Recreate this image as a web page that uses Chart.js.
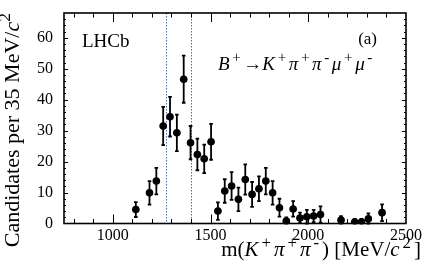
<!DOCTYPE html>
<html>
<head>
<meta charset="utf-8">
<script src="https://cdn.jsdelivr.net/npm/chart.js@4.4.1/dist/chart.umd.min.js"></script>
<style>
  html, body { margin: 0; padding: 0; background: #fff; }
  #wrap { width: 427px; height: 267px; }
</style>
</head>
<body>
<div id="wrap"><canvas id="massChart" width="427" height="267"></canvas></div>
<script>
// ── Data (35 MeV bins, centres in MeV/c^2) ─────────────────────────────────
const massBins   = [1117.5, 1187.5, 1222.5, 1257.5, 1292.5, 1327.5, 1362.5, 1397.5, 1432.5, 1467.5,
                    1502.5, 1537.5, 1572.5, 1607.5, 1642.5, 1677.5, 1712.5, 1747.5, 1782.5, 1817.5,
                    1852.5, 1887.5, 1922.5, 1957.5, 1992.5, 2027.5, 2062.5, 2167.5, 2237.5, 2272.5,
                    2307.5, 2377.5];
const candidates = [4.5, 9.9, 13.7, 31.5, 34.5, 29.3, 46.6, 26.1, 22.3, 20.9,
                    26.4, 4.0, 10.5, 12.1, 7.8, 14.2, 9.4, 11.2, 13.7, 9.9,
                    5.1, 0.8, 4.7, 1.8, 2.2, 2.4, 2.9, 1.1, 0.5, 0.5,
                    1.5, 3.5];
const candErr    = [2.4, 3.8, 4.3, 6.2, 6.4, 5.9, 7.6, 5.4, 5.1, 4.6,
                    5.8, 2.8, 3.8, 4.5, 3.8, 4.9, 4.0, 4.0, 4.3, 3.8,
                    2.9, 1.2, 2.5, 1.7, 2.2, 2.0, 2.6, 1.3, 1.0, 1.0,
                    1.8, 2.7];
const binHalf    = 17.5;
const xTicks     = [1000, 1500, 2000, 2500];
const yTicks     = [0, 10, 20, 30, 40, 50, 60];
const windowCuts = [1270, 1400];

const SERIF = '"Liberation Serif", "DejaVu Serif", serif';
const SUP = 0.8;

// text pieces: [text, italic, superscript]; gap = extra space around superscripts
function pieceFont(it, sup, size) {
  return `${it ? 'italic ' : ''}${sup ? size * SUP : size}px ${SERIF}`;
}
function richWidth(ctx, runs, size, gap) {
  let w = 0;
  for (const [txt, it, sup] of runs) {
    ctx.font = pieceFont(it, sup, size);
    w += ctx.measureText(txt).width + (sup ? 2 * gap : 0);
  }
  return w;
}
function drawRich(ctx, runs, x, y, size, align, gap = 0) {
  let cx = align === 'right' ? x - richWidth(ctx, runs, size, gap) : x;
  ctx.textAlign = 'left';
  ctx.textBaseline = 'alphabetic';
  ctx.fillStyle = '#000';
  for (const [txt, it, sup] of runs) {
    ctx.font = pieceFont(it, sup, size);
    if (sup) cx += gap;
    ctx.fillText(txt, cx, sup ? y - size * 0.4 : y);
    cx += ctx.measureText(txt).width + (sup ? gap : 0);
  }
}

const xTitle = [['m(', 0, 0], ['K', 1, 0], ['+', 0, 1], ['π', 1, 0], ['+', 0, 1], ['π', 1, 0], ['-', 0, 1],
                [') [MeV/', 0, 0], ['c', 1, 0], ['2', 0, 1], [']', 0, 0]];
const yTitle = [['Candidates per 35 MeV/', 0, 0], ['c', 1, 0], ['2', 0, 1]];
const decay  = [['B', 1, 0], ['+', 0, 1], ['→', 0, 0], ['K', 1, 0], ['+', 0, 1], ['π', 1, 0], ['+', 0, 1],
                ['π', 1, 0], ['-', 0, 1], ['μ', 1, 0], ['+', 0, 1], ['μ', 1, 0], ['-', 0, 1]];

// ── Error bars, selection window, frame with inward ticks, labels ──────────
const rootStyle = {
  id: 'rootStyle',
  beforeDatasetsDraw(chart) {
    const { ctx, chartArea: a, scales: { x, y } } = chart;
    ctx.save();
    // selection window lines
    ctx.strokeStyle = '#4b6cb7';
    ctx.lineWidth = 1;
    ctx.setLineDash([1.5, 1.5]);
    for (const m of windowCuts) {
      const px = Math.round(x.getPixelForValue(m)) + 0.5;
      ctx.beginPath(); ctx.moveTo(px, a.top); ctx.lineTo(px, a.bottom); ctx.stroke();
    }
    ctx.setLineDash([]);
    // error bars
    ctx.strokeStyle = '#000';
    ctx.lineWidth = 1.8;
    massBins.forEach((m, i) => {
      const px = x.getPixelForValue(m);
      const py = y.getPixelForValue(candidates[i]);
      const lo = y.getPixelForValue(Math.max(0, candidates[i] - candErr[i]));
      const hi = y.getPixelForValue(candidates[i] + candErr[i]);
      ctx.beginPath();
      ctx.moveTo(px, lo); ctx.lineTo(px, hi);
      ctx.moveTo(px - 1.8, lo); ctx.lineTo(px + 1.8, lo);
      ctx.moveTo(px - 1.8, hi); ctx.lineTo(px + 1.8, hi);
      ctx.moveTo(x.getPixelForValue(m - binHalf), py); ctx.lineTo(x.getPixelForValue(m + binHalf), py);
      ctx.stroke();
    });
    ctx.restore();
  },
  afterDraw(chart) {
    const { ctx, chartArea: a, scales: { x, y } } = chart;
    ctx.save();
    ctx.strokeStyle = '#000';
    ctx.lineWidth = 1;
    ctx.beginPath();
    for (let m = 800; m < 2500; m += 100) {
      const px = Math.round(x.getPixelForValue(m)) + 0.5;
      const len = m % 500 === 0 ? 9 : 4.5;
      ctx.moveTo(px, a.bottom); ctx.lineTo(px, a.bottom - len);
      ctx.moveTo(px, a.top);    ctx.lineTo(px, a.top + len);
    }
    for (let v = 2; v < 68; v += 2) {
      const py = Math.round(y.getPixelForValue(v)) + 0.5;
      const len = v % 10 === 0 ? 4 : 2;
      ctx.moveTo(a.left, py);  ctx.lineTo(a.left + len, py);
      ctx.moveTo(a.right, py); ctx.lineTo(a.right - len, py);
    }
    ctx.stroke();
    ctx.lineWidth = 1.6;
    ctx.strokeRect(a.left, a.top, a.right - a.left, a.bottom - a.top);

    // texts
    drawRich(ctx, [['LHCb', 0, 0]], 82, 47, 19, 'left');
    drawRich(ctx, [['(a)', 0, 0]], 377, 44, 17, 'right');
    drawRich(ctx, decay, 218, 70, 19, 'left', 2.6);
    drawRich(ctx, xTitle, 421, 256, 21, 'right', 3);
    ctx.translate(19, 13);
    ctx.rotate(-Math.PI / 2);
    drawRich(ctx, yTitle, 0, 0, 22, 'right');
    ctx.restore();
  }
};

new Chart(document.getElementById('massChart'), {
  type: 'scatter',
  data: {
    datasets: [{
      label: 'Candidates',
      data: massBins.map((m, i) => ({ x: m, y: candidates[i] })),
      pointRadius: 3.8,
      pointHoverRadius: 3.8,
      pointBackgroundColor: '#000',
      pointBorderWidth: 0,
      showLine: false
    }]
  },
  options: {
    responsive: false,
    animation: false,
    devicePixelRatio: 1,
    layout: { padding: { left: 0, right: 21, top: 13, bottom: 0 } },
    plugins: { legend: { display: false }, tooltip: { enabled: false } },
    scales: {
      x: {
        type: 'linear', min: 750, max: 2500,
        afterBuildTicks: s => { s.ticks = xTicks.map(v => ({ value: v })); },
        afterFit: s => { s.height = 43.5; },
        grid: { display: false }, border: { display: false },
        ticks: { color: '#000', font: { family: SERIF, size: 16 }, padding: -5, maxRotation: 0,
                 autoSkip: false, callback: v => String(v) }
      },
      y: {
        min: 0, max: 68,
        afterBuildTicks: s => { s.ticks = yTicks.map(v => ({ value: v })); },
        afterFit: s => { s.width = 64; },
        grid: { display: false }, border: { display: false },
        ticks: { color: '#000', font: { family: SERIF, size: 16 }, padding: 3, callback: v => String(v) }
      }
    }
  },
  plugins: [rootStyle]
});
</script>
</body>
</html>
